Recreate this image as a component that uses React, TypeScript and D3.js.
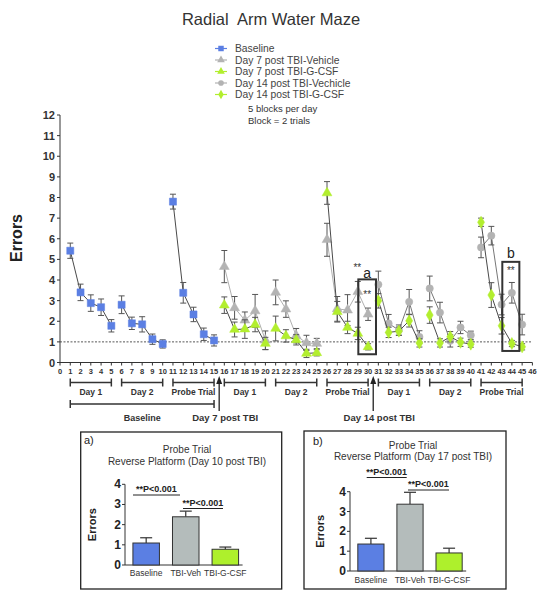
import React from "react";
import * as d3 from "d3";

// ---------- Data ----------
const baseX = d3.range(1, 16);
const baseMean = [5.42, 3.4, 2.88, 2.68, 1.78, 2.8, 1.9, 1.85, 1.13, 0.9, 7.8, 3.38, 2.33, 1.37, 1.07];
const baseErr = [0.37, 0.4, 0.4, 0.4, 0.3, 0.43, 0.3, 0.37, 0.25, 0.2, 0.36, 0.5, 0.35, 0.3, 0.27];

const d7X = d3.range(16, 31);
const d7VehMean = [4.65, 2.65, 2.05, 2.5, 1.08, 3.4, 2.59, 1.3, 0.95, 0.92, 5.95, 2.6, 2.54, 3.43, 2.34];
const d7VehErr = [0.78, 0.55, 0.4, 0.8, 0.45, 0.6, 0.4, 0.35, 0.37, 0.25, 0.8, 0.6, 0.75, 0.5, 0.3];
const d7GcsfMean = [2.78, 1.6, 1.62, 1.84, 0.92, 1.65, 1.29, 1.1, 0.44, 0.47, 8.22, 2.46, 1.7, 1.41, 0.76];
const d7GcsfErr = [0.4, 0.36, 0.45, 0.35, 0.3, 0.6, 0.3, 0.25, 0.2, 0.15, 0.55, 0.5, 0.3, 0.3, 0.15];

const d14X = d3.range(31, 46);
const d14VehMean = [3.78, 1.89, 1.57, 2.94, 1.24, 3.59, 2.42, 1.05, 1.7, 1.32, 5.58, 6.15, 2.81, 3.38, 1.84];
const d14VehErr = [0.65, 0.44, 0.25, 0.6, 0.3, 0.6, 0.5, 0.3, 0.3, 0.2, 0.5, 0.45, 0.5, 0.5, 0.5];
const d14GcsfMean = [2.99, 1.46, 1.52, 2.02, 0.95, 2.3, 0.95, 1.25, 0.98, 0.89, 6.8, 3.27, 1.78, 0.92, 0.76];
const d14GcsfErr = [0.35, 0.25, 0.2, 0.3, 0.2, 0.4, 0.2, 0.25, 0.2, 0.15, 0.2, 0.6, 0.4, 0.15, 0.15];

const legendLabels = ["Baseline", "Day 7 post TBI-Vehicle", "Day 7 post TBI-G-CSF", "Day 14 post TBI-Vechicle", "Day 14 post TBI-G-CSF"];

const blockLabels = ["Day 1", "Day 2", "Probe Trial", "Day 1", "Day 2", "Probe Trial", "Day 1", "Day 2", "Probe Trial"];
const blockStarts = [1, 6, 11, 16, 21, 26, 31, 36, 41];
const arrowLabels = ["Day 7 post TBI", "Day 14 post TBI"];
const arrowX = [15.5, 30.5];

const yTicks = d3.range(0, 13);
const xTicks = d3.range(0, 47);

// highlight boxes [x0, x1, y0, y1] in data units
const boxA = [29.05, 30.77, 0.4, 4.03];
const boxB = [43.07, 44.73, 0.56, 4.88];

const barCats = ["Baseline", "TBI-Veh", "TBI-G-CSF"];
const barAMean = [1.09, 2.39, 0.78];
const barAErr = [0.26, 0.28, 0.11];
const barBMean = [1.36, 3.37, 0.91];
const barBErr = [0.29, 0.6, 0.24];
const barTicks = [0, 1, 2, 3, 4];

// ---------- Styles ----------
const FONT = "'Liberation Sans', Arial, Helvetica, sans-serif";
const BLUE = "#5b7fe3";
const GRAY = "#b3b3b3";
const GREEN = "#b2ee2e";
const LINE_DARK = "#4a4a4a";
const ERR = "#555";

const xMain = d3.scaleLinear().domain([0, 46]).range([60, 532.4]);
const yMain = d3.scaleLinear().domain([0, 12]).range([362.5, 115]);

type Series = {
  xs: number[];
  mean: number[];
  err: number[];
  color: string;
  line: string;
  symbol: d3.SymbolType;
  size: number;
};

const series: Series[] = [
  { xs: baseX, mean: baseMean, err: baseErr, color: BLUE, line: LINE_DARK, symbol: d3.symbolSquare, size: 50 },
  { xs: d7X, mean: d7VehMean, err: d7VehErr, color: GRAY, line: "#b0b0b0", symbol: d3.symbolTriangle, size: 42 },
  { xs: d14X, mean: d14VehMean, err: d14VehErr, color: GRAY, line: "#777", symbol: d3.symbolCircle, size: 42 },
  { xs: d7X, mean: d7GcsfMean, err: d7GcsfErr, color: GREEN, line: LINE_DARK, symbol: d3.symbolTriangle, size: 42 },
  { xs: d14X, mean: d14GcsfMean, err: d14GcsfErr, color: GREEN, line: LINE_DARK, symbol: d3.symbolDiamond, size: 42 },
];
const legendSeries = [series[0], series[1], series[3], series[2], series[4]];

function SeriesMarks({ s }: { s: Series }) {
  const line = d3
    .line<number>()
    .x((i) => xMain(s.xs[i]))
    .y((i) => yMain(s.mean[i]));
  const blocks = d3.range(0, s.xs.length, 5).map((b) => d3.range(b, Math.min(b + 5, s.xs.length)));
  const sym = d3.symbol().type(s.symbol).size(s.size)();
  return (
    <g>
      {blocks.map((idx, k) => (
        <path key={"l" + k} d={line(idx) || ""} fill="none" stroke={s.line} strokeWidth={1} />
      ))}
      {s.xs.map((x, i) => {
        const cx = xMain(x);
        const y0 = yMain(s.mean[i] - s.err[i]);
        const y1 = yMain(s.mean[i] + s.err[i]);
        return (
          <g key={"e" + i} stroke={ERR} strokeWidth={1}>
            <line x1={cx} x2={cx} y1={y0} y2={y1} />
            <line x1={cx - 3} x2={cx + 3} y1={y0} y2={y0} />
            <line x1={cx - 3} x2={cx + 3} y1={y1} y2={y1} />
          </g>
        );
      })}
      {s.xs.map((x, i) => (
        <path key={"m" + i} d={sym || ""} transform={`translate(${xMain(x)},${yMain(s.mean[i])})`} fill={s.color} stroke={s.color} strokeWidth={0.5} />
      ))}
    </g>
  );
}

type InsetProps = {
  box: [number, number, number, number];
  tag: string;
  title2: string;
  axisX: number;
  y0: number;
  y4: number;
  step: number;
  mean: number[];
  err: number[];
  tagPos: [number, number];
  titleX: number;
  titleY: number;
  sig1: [number, number, number];
  sig2: [number, number, number];
  labelY: number;
  errorsX: number;
};

function Inset(p: InsetProps) {
  const [bx0, by0, bx1, by1] = p.box;
  const xb = d3.scaleBand<string>().domain(barCats).range([p.axisX, p.axisX + 3 * p.step]).paddingInner(0.33).paddingOuter(0.2);
  const yb = d3.scaleLinear().domain([0, 4]).range([p.y0, p.y4]);
  const colors = [BLUE, "#b4bcbb", "#aef02c"];
  const lastRight = (xb(barCats[2]) || 0) + xb.bandwidth();
  return (
    <g fontFamily={FONT}>
      <rect x={bx0} y={by0} width={bx1 - bx0} height={by1 - by0} fill="none" stroke="#222" strokeWidth={1.3} />
      <text x={p.tagPos[0]} y={p.tagPos[1]} fontSize={11} fill="#222">{p.tag}</text>
      <text x={p.titleX} y={p.titleY} fontSize={10} fill="#333" textAnchor="middle">Probe Trial</text>
      <text x={p.titleX} y={p.titleY + 11.5} fontSize={10} fill="#333" textAnchor="middle">{p.title2}</text>
      {/* axis */}
      <line x1={p.axisX} x2={p.axisX} y1={yb(0)} y2={yb(4)} stroke="#333" strokeWidth={1} />
      <line x1={p.axisX} x2={lastRight + 4} y1={yb(0)} y2={yb(0)} stroke="#333" strokeWidth={1} />
      {barTicks.map((t) => (
        <g key={t}>
          <line x1={p.axisX - 3} x2={p.axisX} y1={yb(t)} y2={yb(t)} stroke="#333" />
          <text x={p.axisX - 4} y={yb(t) + 4} fontSize={12} fontWeight="bold" textAnchor="end" fill="#222">{t}</text>
        </g>
      ))}
      <text transform={`translate(${p.errorsX},${(yb(0) + yb(4)) / 2}) rotate(-90)`} fontSize={11} fontWeight="bold" textAnchor="middle" fill="#222">Errors</text>
      {barCats.map((c, i) => {
        const x = xb(c) || 0;
        const w = xb.bandwidth();
        const top = yb(p.mean[i]);
        const et = yb(p.mean[i] + p.err[i]);
        return (
          <g key={c}>
            <line x1={x + w / 2} x2={x + w / 2} y1={top} y2={et} stroke="#333" strokeWidth={1.2} />
            <line x1={x + w / 2 - 6} x2={x + w / 2 + 6} y1={et} y2={et} stroke="#333" strokeWidth={1.2} />
            <rect x={x} y={top} width={w} height={yb(0) - top} fill={colors[i]} stroke="#333" strokeWidth={1} />
            <text x={x + w / 2} y={p.labelY} fontSize={8.5} textAnchor="middle" fill="#333">{c}</text>
          </g>
        );
      })}
      {[p.sig1, p.sig2].map((s, k) => (
        <g key={k}>
          <text x={(s[0] + s[1]) / 2} y={s[2] - 3} fontSize={9} fontWeight="bold" textAnchor="middle" fill="#222">**P&lt;0.001</text>
          <line x1={s[0]} x2={s[1]} y1={s[2]} y2={s[2]} stroke="#222" strokeWidth={1} />
        </g>
      ))}
    </g>
  );
}

export default function App() {
  const lineY = yMain(1);
  const bracketY = 382.5;
  const row2Y = 404;
  return (
    <svg width={544} height={599} style={{ position: "absolute", left: 0, top: 0, background: "#fff" }} fontFamily={FONT}>
      <rect width={544} height={599} fill="#fff" />
      {/* title */}
      <text x={271} y={25} fontSize={16.5} fill="#333" textAnchor="middle" style={{ whiteSpace: "pre" }}>
        {"Radial  Arm Water Maze"}
      </text>
      {/* legend */}
      {legendLabels.map((lab, i) => {
        const s = legendSeries[i];
        const cy = 48.5 + i * 11.5;
        const sym = d3.symbol().type(s.symbol).size(s.size * 0.6)();
        return (
          <g key={lab}>
            <line x1={215} x2={227} y1={cy} y2={cy} stroke={s.color} strokeWidth={1.2} />
            <path d={sym || ""} transform={`translate(221,${cy})`} fill={s.color} />
            <text x={235} y={cy + 3.8} fontSize={10.3} fill="#444">{lab}</text>
          </g>
        );
      })}
      <text x={248} y={112} fontSize={9.5} fill="#333">5 blocks per day</text>
      <text x={248} y={123.5} fontSize={9.5} fill="#333">Block = 2 trials</text>

      {/* y axis */}
      <text transform={`translate(22,238) rotate(-90)`} fontSize={16} fontWeight="bold" textAnchor="middle" fill="#222">Errors</text>
      <line x1={xMain(0)} x2={xMain(0)} y1={yMain(0)} y2={yMain(12)} stroke="#333" strokeWidth={1} />
      {yTicks.map((t) => (
        <g key={t}>
          <line x1={xMain(0) - 3} x2={xMain(0)} y1={yMain(t)} y2={yMain(t)} stroke="#333" />
          <text x={xMain(0) - 5} y={yMain(t) + 4} fontSize={11} fontWeight="bold" textAnchor="end" fill="#333">{t}</text>
        </g>
      ))}
      {/* x axis */}
      <line x1={xMain(0)} x2={xMain(46)} y1={yMain(0)} y2={yMain(0)} stroke="#333" strokeWidth={1} />
      {xTicks.map((t) => (
        <g key={t}>
          <line x1={xMain(t)} x2={xMain(t)} y1={yMain(0)} y2={yMain(0) + 3} stroke="#333" />
          <text x={xMain(t)} y={yMain(0) + 11.5} fontSize={7.5} fontWeight="bold" textAnchor="middle" fill="#333">{t}</text>
        </g>
      ))}
      {/* reference line */}
      <line x1={xMain(0)} x2={xMain(46)} y1={lineY} y2={lineY} stroke="#444" strokeWidth={0.9} strokeDasharray="2,1.5" />

      {series.map((s, i) => (
        <SeriesMarks key={i} s={s} />
      ))}

      {/* highlight boxes */}
      {[boxA, boxB].map((b, i) => (
        <rect key={i} x={xMain(b[0])} y={yMain(b[3])} width={xMain(b[1]) - xMain(b[0])} height={yMain(b[2]) - yMain(b[3])} fill="none" stroke="#333" strokeWidth={2} />
      ))}
      <text x={xMain((boxA[0] + boxA[1]) / 2)} y={yMain(boxA[3]) - 1} fontSize={14} textAnchor="middle" fill="#222">a</text>
      <text x={xMain(boxA[0]) - 1} y={yMain(boxA[3]) - 8} fontSize={10} textAnchor="middle" fill="#333">**</text>
      <text x={xMain((boxA[0] + boxA[1]) / 2)} y={yMain(boxA[3]) + 19} fontSize={10} textAnchor="middle" fill="#333">**</text>
      <text x={xMain((boxB[0] + boxB[1]) / 2)} y={yMain(boxB[3]) - 4} fontSize={14} textAnchor="middle" fill="#222">b</text>
      <text x={xMain((boxB[0] + boxB[1]) / 2)} y={yMain(boxB[3]) + 12} fontSize={10} textAnchor="middle" fill="#333">**</text>

      {/* block brackets */}
      {blockStarts.map((s, i) => {
        const x0 = xMain(s);
        const x1 = xMain(s + 4);
        return (
          <g key={i}>
            <line x1={x0} x2={x1} y1={bracketY} y2={bracketY} stroke="#333" strokeWidth={1.5} />
            <line x1={x0} x2={x0} y1={bracketY - 4} y2={bracketY + 4} stroke="#333" strokeWidth={1.5} />
            <line x1={x1} x2={x1} y1={bracketY - 4} y2={bracketY + 4} stroke="#333" strokeWidth={1.5} />
            <text x={(x0 + x1) / 2} y={bracketY + 12} fontSize={8.5} fontWeight="bold" textAnchor="middle" fill="#333">{blockLabels[i]}</text>
          </g>
        );
      })}
      <g>
        <line x1={xMain(1)} x2={xMain(15)} y1={row2Y} y2={row2Y} stroke="#333" strokeWidth={1.5} />
        <line x1={xMain(1)} x2={xMain(1)} y1={row2Y - 4} y2={row2Y + 4} stroke="#333" strokeWidth={1.5} />
        <line x1={xMain(15)} x2={xMain(15)} y1={row2Y - 4} y2={row2Y + 4} stroke="#333" strokeWidth={1.5} />
        <text x={xMain(8)} y={row2Y + 17} fontSize={9} fontWeight="bold" textAnchor="middle" fill="#333">Baseline</text>
      </g>
      {arrowX.map((ax, i) => {
        const x = xMain(ax);
        return (
          <g key={i}>
            <line x1={x} x2={x} y1={411} y2={381} stroke="#222" strokeWidth={1.3} />
            <path d={`M${x - 3},${384} L${x},${376} L${x + 3},${384} Z`} fill="#222" />
            <text x={x + 6} y={420.5} fontSize={9.5} fontWeight="bold" textAnchor="middle" fill="#333">{arrowLabels[i]}</text>
          </g>
        );
      })}

      {/* insets */}
      <Inset
        box={[80.7, 432, 281.7, 589]}
        tag="a)"
        title2="Reverse Platform (Day 10 post TBI)"
        axisX={125}
        y0={565}
        y4={484.3}
        step={40.5}
        mean={barAMean}
        err={barAErr}
        tagPos={[84, 444]}
        titleX={187}
        titleY={453}
        sig1={[133, 180, 495]}
        sig2={[183, 223, 508.5]}
        labelY={576}
        errorsX={95.5}
      />
      <Inset
        box={[304, 431, 506, 589]}
        tag="b)"
        title2="Reverse Platform (Day 17 post TBI)"
        axisX={350}
        y0={571}
        y4={491.7}
        step={40}
        mean={barBMean}
        err={barBErr}
        tagPos={[313, 444.5]}
        titleX={413}
        titleY={448.5}
        sig1={[366.7, 406.7, 477.5]}
        sig2={[408, 449, 490]}
        labelY={583}
        errorsX={323.5}
      />
    </svg>
  );
}
